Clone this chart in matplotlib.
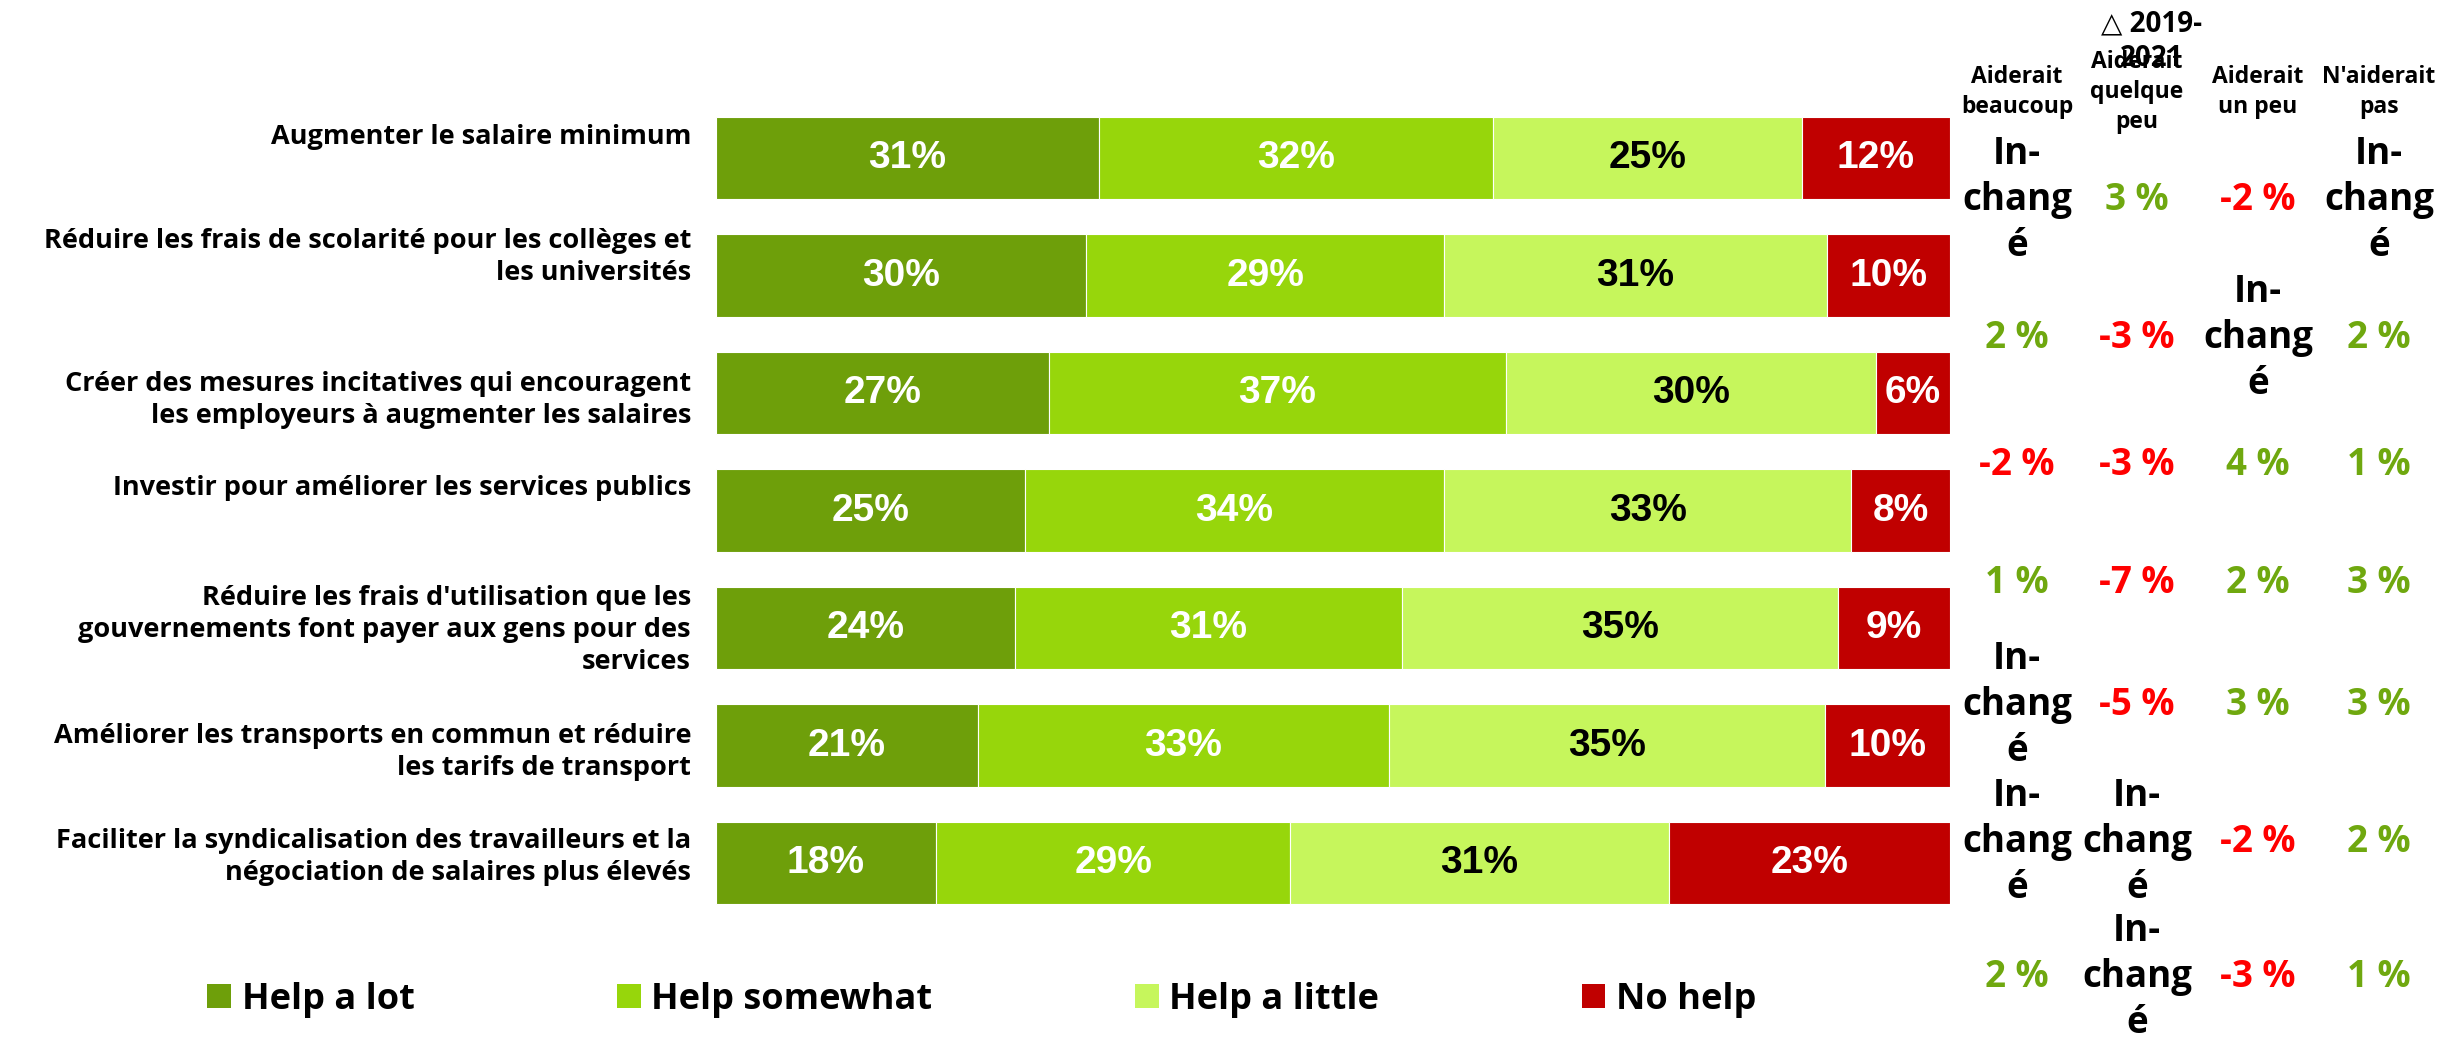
import matplotlib
matplotlib.use("Agg")
import matplotlib.pyplot as plt
from matplotlib.patches import Patch
from matplotlib.transforms import blended_transform_factory
import numpy as np

# ---------------- data ----------------
categories = [
    "Augmenter le salaire minimum",
    "Réduire les frais de scolarité pour les collèges et\nles universités",
    "Créer des mesures incitatives qui encouragent\nles employeurs à augmenter les salaires",
    "Investir pour améliorer les services publics",
    "Réduire les frais d'utilisation que les\ngouvernements font payer aux gens pour des\nservices",
    "Améliorer les transports en commun et réduire\nles tarifs de transport",
    "Faciliter la syndicalisation des travailleurs et la\nnégociation de salaires plus élevés",
]
series_names = ["Help a lot", "Help somewhat", "Help a little", "No help"]
help_a_lot = [31, 30, 27, 25, 24, 21, 18]
help_somewhat = [32, 29, 37, 34, 31, 33, 29]
help_a_little = [25, 31, 30, 33, 35, 35, 31]
no_help = [12, 10, 6, 8, 9, 10, 23]

change_title = "△ 2019-\n2021"
change_headers = ["Aiderait\nbeaucoup", "Aiderait\nquelque\npeu", "Aiderait\nun peu", "N'aiderait\npas"]
chg_lot = [None, 2, -2, 1, None, None, 2]
chg_somewhat = [3, -3, -3, -7, -5, None, None]
chg_little = [-2, None, 4, 2, 3, -2, -3]
chg_none = [None, 2, 1, 3, 3, 2, 1]
unchanged_label = "In-\nchang\né"

# ---------------- style / layout ----------------
W, H, DPI = 2445, 1037, 100
seg_colors = ["#6E9F0A", "#97D60B", "#C6F65C", "#C00000"]
seg_text_colors = ["white", "white", "black", "white"]
pos_color = "#6FA80F"
neg_color = "#FF0000"
FONT = ["Open Sans", "DejaVu Sans"]
BARFONT = ["Liberation Sans", "DejaVu Sans"]

def fx(px):
    return px / W

def fy(py):
    return 1 - py / H

fig = plt.figure(figsize=(W / DPI, H / DPI), dpi=DPI)
fig.patch.set_facecolor("white")

row_pitch = 117.5
top_px = 158 - row_pitch / 2
bot_px = 863 + row_pitch / 2
ax = fig.add_axes([fx(716), fy(bot_px), (1950 - 716) / W, (bot_px - top_px) / H])
n = len(categories)
ax.set_xlim(0, 100)
ax.set_ylim(n - 0.5, -0.5)
ax.axis("off")

series = np.array([help_a_lot, help_somewhat, help_a_little, no_help], dtype=float)
totals = series.sum(axis=0)
shares = series / totals * 100
ypos = np.arange(n)
left = np.zeros(n)
for k in range(4):
    ax.barh(ypos, shares[k], left=left, height=0.70, color=seg_colors[k],
            edgecolor="white", linewidth=0.8)
    for i in range(n):
        ax.text(left[i] + shares[k][i] / 2, ypos[i], f"{int(series[k][i])}%",
                ha="center", va="center", color=seg_text_colors[k],
                fontsize=28, fontweight="bold", family=BARFONT)
    left += shares[k]

# category labels
label_dy_px = [-21, -18.5, 7, -22.5, 2, 6.5, -6]
tr = blended_transform_factory(ax.transAxes, ax.transData)
for i, cat in enumerate(categories):
    ax.text((691 - 716) / (1950 - 716), ypos[i] + label_dy_px[i] / row_pitch, cat,
            transform=tr, ha="right", va="center", fontsize=19.5, fontweight="bold",
            family=FONT, linespacing=1.3, multialignment="right")

# change table
col_x_px = [2017, 2137, 2258, 2379]
row_y_px = [200, 338, 465, 583, 705, 842, 977]
fig.text(fx(2152), fy(41), change_title, ha="center", va="center", fontsize=20,
         fontweight="bold", family=FONT, linespacing=1.25)
for j, hdr in enumerate(change_headers):
    fig.text(fx(col_x_px[j]), fy(92), hdr, ha="center", va="center", fontsize=16.5,
             fontweight="bold", family=FONT, linespacing=1.35)

changes = [chg_lot, chg_somewhat, chg_little, chg_none]
for j, col in enumerate(changes):
    for i, v in enumerate(col):
        if v is None:
            txt, c = unchanged_label, "black"
        else:
            txt, c = f"{v} %", (pos_color if v > 0 else neg_color)
        fig.text(fx(col_x_px[j]), fy(row_y_px[i]), txt, ha="center", va="center",
                 fontsize=26.5, fontweight="bold", family=FONT, color=c,
                 linespacing=1.27)

# legend
handles = [Patch(facecolor=c, edgecolor="none") for c in seg_colors]
fig.legend(handles, series_names, loc="center left",
           bbox_to_anchor=(fx(207), fy(1000)), ncol=4, frameon=False,
           borderpad=0, borderaxespad=0, handlelength=0.66, handleheight=0.66,
           handletextpad=0.3, columnspacing=5.6,
           prop=dict(family=FONT, weight="bold", size=26))

fig.savefig("out.png", dpi=DPI, facecolor="white")
